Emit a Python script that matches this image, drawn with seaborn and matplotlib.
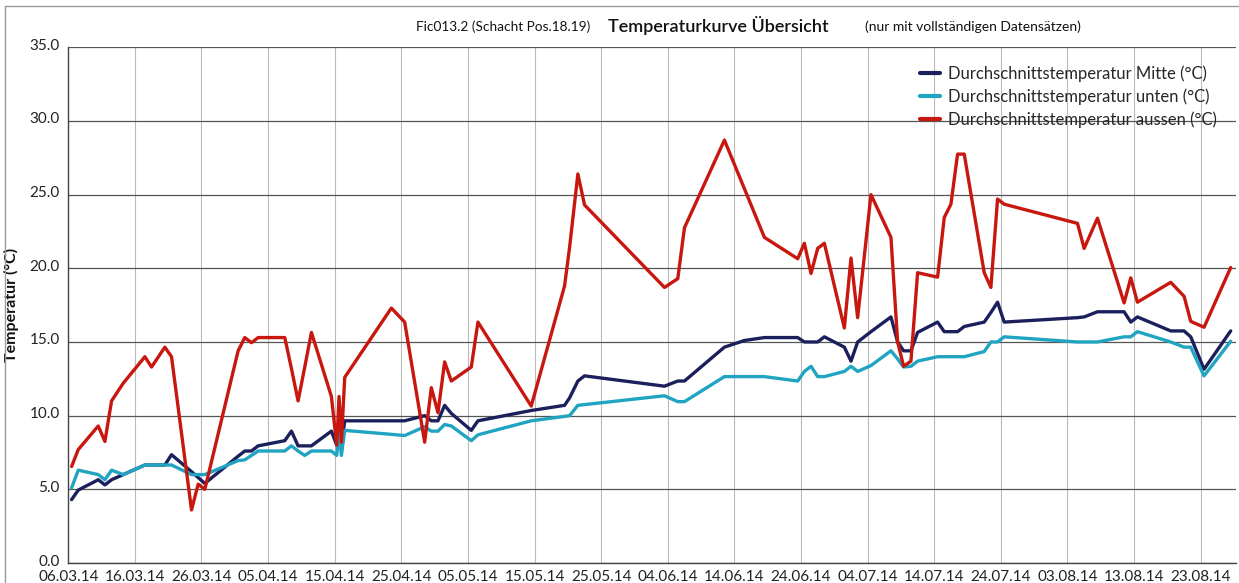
import pandas as pd
import numpy as np
import matplotlib.pyplot as plt
import matplotlib.lines as mlines
import matplotlib.transforms as mtransforms
import seaborn as sns

# Tage seit 06.03.14 (Messzeitpunkte, nur vollständige Datensätze)
tage = [0.5, 1.5, 4.5, 5.5, 6.5, 8.25, 11.5, 12.5, 14.5, 15.5,
        18.5, 19.5, 20.5, 25.5, 26.5, 27.5, 28.5, 32.5, 33.5, 34.5,
        35.5, 36.5, 39.5, 40.3, 40.65, 41.0, 41.5, 48.5, 50.5, 53.5,
        54.5, 55.5, 56.5, 57.5, 60.5, 61.5, 69.5, 74.5, 75.25, 76.5,
        77.5, 89.5, 91.5, 92.5, 98.5, 101.5, 104.5, 109.5, 110.5, 111.5,
        112.5, 113.5, 116.5, 117.5, 118.5, 120.5, 123.5, 124.5, 125.4, 126.5,
        127.5, 130.5, 131.5, 132.5, 133.5, 134.5, 137.5, 138.5, 139.5, 140.5,
        151.5, 152.5, 154.5, 158.5, 159.5, 160.5, 165.5, 167.5, 168.5, 170.5,
        174.5]

mitte = [4.3, 4.95, 5.65, 5.3, 5.65, 6.0, 6.65, 6.65, 6.65, 7.35,
         6.2, 5.8, 5.4, 7.25, 7.6, 7.6, 7.95, 8.3, 8.95, 7.95,
         7.95, 7.95, 8.95, 8.0, 8.9, 8.0, 9.65, 9.65, 9.65, 10.0,
         9.65, 9.65, 10.7, 10.15, 9.0, 9.65, 10.35, 10.7, 11.2, 12.35,
         12.7, 12.0, 12.35, 12.35, 14.65, 15.1, 15.3, 15.3, 15.0, 15.0,
         15.0, 15.35, 14.65, 13.7, 15.0, 15.7, 16.7, 15.0, 14.4, 14.4,
         15.65, 16.35, 15.7, 15.7, 15.7, 16.05, 16.35, 17.0, 17.7, 16.35,
         16.65, 16.7, 17.05, 17.05, 16.35, 16.7, 15.75, 15.75, 15.35, 13.15,
         15.75]

unten = [5.1, 6.3, 6.0, 5.65, 6.3, 6.0, 6.65, 6.65, 6.65, 6.65,
         6.0, 6.0, 6.0, 6.95, 7.0, 7.3, 7.6, 7.6, 7.95, 7.6,
         7.3, 7.6, 7.6, 7.3, 8.9, 7.3, 9.0, 8.73, 8.65, 9.25,
         8.95, 8.95, 9.4, 9.3, 8.3, 8.7, 9.65, 9.95, 10.0, 10.7,
         10.75, 11.35, 10.95, 10.95, 12.65, 12.65, 12.65, 12.35, 13.0, 13.35,
         12.65, 12.65, 13.0, 13.35, 13.0, 13.4, 14.4, 13.85, 13.3, 13.35,
         13.7, 14.0, 14.0, 14.0, 14.0, 14.0, 14.35, 15.0, 15.0, 15.35,
         15.0, 15.0, 15.0, 15.35, 15.35, 15.7, 15.0, 14.65, 14.65, 12.7,
         15.05]

aussen = [6.55, 7.7, 9.3, 8.25, 11.0, 12.2, 14.0, 13.3, 14.65, 14.0,
          3.6, 5.35, 5.0, 14.4, 15.3, 14.95, 15.3, 15.3, 13.2, 11.0,
          13.3, 15.65, 11.3, 8.0, 11.3, 8.2, 12.6, 17.3, 16.35, 8.2,
          11.9, 10.2, 13.65, 12.35, 13.3, 16.35, 10.65, 18.8, 21.4, 26.4,
          24.3, 18.7, 19.3, 22.75, 28.7, 25.4, 22.1, 20.65, 21.7, 19.65,
          21.35, 21.7, 15.95, 20.7, 16.65, 25.0, 22.1, 15.0, 13.35, 13.7,
          19.7, 19.4, 23.45, 24.35, 27.75, 27.75, 19.7, 18.7, 24.7, 24.35,
          23.05, 21.35, 23.4, 17.65, 19.35, 17.7, 19.05, 18.1, 16.4, 16.0,
          20.05]

reihen = ["Durchschnittstemperatur Mitte (°C)",
          "Durchschnittstemperatur unten (°C)",
          "Durchschnittstemperatur aussen (°C)"]
farben = ["#1b1f5c", "#20a4c2", "#c8170f"]

y_ticks = [0, 5, 10, 15, 20, 25, 30, 35]

start = pd.Timestamp("2014-03-06")
datum = start + pd.to_timedelta(tage, unit="D")

df = pd.DataFrame({"Datum": datum, reihen[0]: mitte, reihen[1]: unten, reihen[2]: aussen})
df_long = df.melt(id_vars="Datum", var_name="Reihe", value_name="Temperatur")

sns.set_theme(style="white")
plt.rcParams['font.family'] = ['Lato', 'DejaVu Sans']

fig = plt.figure(figsize=(12.39, 5.83), dpi=100)
ax = fig.add_axes([0.0551, 0.0343, 0.9425, 0.8846])

sns.lineplot(data=df_long, x="Datum", y="Temperatur", hue="Reihe",
             hue_order=reihen, palette=farben, linewidth=2.4,
             estimator=None, sort=False, ax=ax, legend=False)

x_ticks = pd.date_range(start, periods=18, freq="10D")
ax.set_xticks(x_ticks)
ax.set_xticklabels([d.strftime("%d.%m.%y") for d in x_ticks])
ax.set_xlim(start, start + pd.Timedelta(days=175.3))
ax.set_yticks(y_ticks)
ax.set_yticklabels([f"{v:.1f}" for v in y_ticks])
ax.set_ylim(0, 35)

ax.grid(axis="y", color="#555555", linewidth=0.9)
ax.grid(axis="x", color="#bbbbbb", linewidth=0.8)
ax.set_axisbelow(True)
for side in ["top", "right"]:
    ax.spines[side].set_visible(False)
for side in ["left", "bottom"]:
    ax.spines[side].set_color("#444444")
    ax.spines[side].set_linewidth(1.0)

ax.tick_params(axis="both", length=0, labelsize=11, colors="#222222")
ax.tick_params(axis="x", pad=5)
ax.tick_params(axis="y", pad=6)
# y-Beschriftungen leicht über die Gitterlinie schieben
versatz = mtransforms.ScaledTranslation(0, 3 / 100, fig.dpi_scale_trans)
for lab in ax.get_yticklabels():
    lab.set_transform(lab.get_transform() + versatz)
ax.set_xlabel("")
ax.set_ylabel("Temperatur (°C)", fontsize=11.5, fontweight="bold", color="#111111", labelpad=8)

handles = [mlines.Line2D([], [], color=c, linewidth=3) for c in farben]
ax.legend(handles, reihen, loc="upper right", bbox_to_anchor=(0.994, 0.987),
          frameon=False, fontsize=12, handlelength=1.2, handletextpad=0.5,
          labelspacing=0.38, borderpad=0.2)

fig.text(590 / 1239, 0.954, "Fic013.2 (Schacht Pos.18.19)", ha="right", va="center",
         fontsize=9.8, color="#111111")
fig.text(608 / 1239, 0.956, "Temperaturkurve Übersicht", ha="left", va="center",
         fontsize=13, fontweight="semibold", color="#111111")
fig.text(865 / 1239, 0.954, "(nur mit vollständigen Datensätzen)", ha="left", va="center",
         fontsize=10, color="#111111")

# Rahmen um die Grafik (oben und links)
fig.add_artist(mlines.Line2D([5 / 1239, 1.0], [1 - 6 / 583, 1 - 6 / 583], color="#999999", linewidth=1.0))
fig.add_artist(mlines.Line2D([5 / 1239, 5 / 1239], [0.0, 1 - 6 / 583], color="#999999", linewidth=1.0))

fig.savefig("out.png", dpi=100)
